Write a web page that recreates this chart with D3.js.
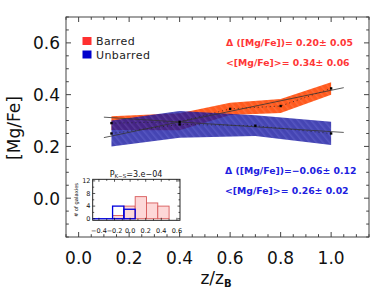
<!DOCTYPE html>
<html>
<head>
<meta charset="utf-8">
<script src="https://cdn.jsdelivr.net/npm/d3@7"></script>
<style>
body { margin: 0; background: #fff; }
text { font-family: "DejaVu Sans", sans-serif; }
</style>
</head>
<body>
<svg width="374" height="290"></svg>
<script>
// dati
var barredX = [0.13, 0.40, 0.60, 0.80, 1.00];
var barredY = [0.290, 0.295, 0.345, 0.356, 0.424];
var barredErr = [0.027, 0.033, 0.024, 0.027, 0.024];

var unbarredX = [0.13, 0.40, 0.70, 1.00];
var unbarredY = [0.250, 0.285, 0.280, 0.250];
var unbarredErr = [0.050, 0.052, 0.040, 0.045];

// rette di fit
var fitX = [0.10, 1.05];
var barredFit = [0.234, 0.427];
var unbarredFit = [0.313, 0.254];

var xTicks = [0.0, 0.2, 0.4, 0.6, 0.8, 1.0];
var yTicks = [0.0, 0.2, 0.4, 0.6];

// istogramma nel riquadro
var binEdges = [-0.225, -0.08, 0.065, 0.21, 0.355, 0.50];
var histBarred = [1, 4, 7, 5, 4];
var histUnbarred = [4, 3, 0, 0, 0];
var histXTicks = [-0.4, -0.2, 0.0, 0.2, 0.4, 0.6];
var histYTicks = [0, 4, 8, 12];

var svg = d3.select("svg");

// (non uso "top": e' gia' window.top)
var pL = 66, pR = 369, pT = 17, pB = 237;
var x = d3.scaleLinear().domain([-0.05, 1.15]).range([pL, pR]);
var y = d3.scaleLinear().domain([-0.15, 0.7]).range([pB, pT]);

// pattern tratteggiato per le bande
var defs = svg.append("defs");
function hatch(id, base, stripe) {
  var p = defs.append("pattern").attr("id", id)
    .attr("patternUnits", "userSpaceOnUse")
    .attr("width", 5).attr("height", 5)
    .attr("patternTransform", "rotate(-40)");
  p.append("rect").attr("width", 5).attr("height", 5).attr("fill", base);
  p.append("rect").attr("width", 1.5).attr("height", 5).attr("fill", stripe);
}
hatch("hOrange", "#ff5a1e", "#ff6c36");
hatch("hBlue", "#1717a0", "#2c2cb2");

function band(xs, ys, es) {
  var pts = xs.map(function (d, i) { return [x(d), y(ys[i] + es[i])]; });
  for (var i = xs.length - 1; i >= 0; i--) pts.push([x(xs[i]), y(ys[i] - es[i])]);
  return "M" + pts.join("L") + "Z";
}

svg.append("path").attr("d", band(barredX, barredY, barredErr))
  .attr("fill", "url(#hOrange)");
svg.append("path").attr("d", band(unbarredX, unbarredY, unbarredErr))
  .attr("fill", "url(#hBlue)").attr("opacity", 0.8);

var line = d3.line().x(function (d) { return x(d[0]); }).y(function (d) { return y(d[1]); });

// linee puntinate tra i punti
svg.append("path").datum(d3.zip(barredX, barredY)).attr("d", line)
  .attr("fill", "none").attr("stroke", "#222").attr("stroke-width", 0.8)
  .attr("stroke-dasharray", "1,3");
svg.append("path").datum(d3.zip(unbarredX, unbarredY)).attr("d", line)
  .attr("fill", "none").attr("stroke", "#222").attr("stroke-width", 0.8)
  .attr("stroke-dasharray", "1,3");

// fit
svg.append("path").datum(d3.zip(fitX, barredFit)).attr("d", line)
  .attr("fill", "none").attr("stroke", "#333").attr("stroke-width", 0.8);
svg.append("path").datum(d3.zip(fitX, unbarredFit)).attr("d", line)
  .attr("fill", "none").attr("stroke", "#333").attr("stroke-width", 0.8);

// punti
svg.append("g").selectAll("rect")
  .data(d3.zip(barredX, barredY).concat(d3.zip(unbarredX, unbarredY)))
  .enter().append("rect")
  .attr("x", function (d) { return x(d[0]) - 1.2; })
  .attr("y", function (d) { return y(d[1]) - 1.2; })
  .attr("width", 2.4).attr("height", 2.4).attr("fill", "#000");

// cornice e tacche
var frame = svg.append("g");
frame.append("rect").attr("x", pL).attr("y", pT)
  .attr("width", pR - pL).attr("height", pB - pT)
  .attr("fill", "none").attr("stroke", "#444").attr("stroke-width", 1);

var xMinor = d3.range(-0.05, 1.151, 0.05);
var yMinor = d3.range(-0.15, 0.701, 0.05);
function isMajor(v) { return Math.abs(v * 5 - Math.round(v * 5)) < 1e-6; }

xMinor.forEach(function (v) {
  var L = isMajor(v) ? 5 : 2.8;
  frame.append("line").attr("x1", x(v)).attr("x2", x(v)).attr("y1", pB).attr("y2", pB - L)
    .attr("stroke", "#444");
  frame.append("line").attr("x1", x(v)).attr("x2", x(v)).attr("y1", pT).attr("y2", pT + L)
    .attr("stroke", "#444");
});
yMinor.forEach(function (v) {
  var L = isMajor(v) ? 5 : 2.8;
  frame.append("line").attr("y1", y(v)).attr("y2", y(v)).attr("x1", pL).attr("x2", pL + L)
    .attr("stroke", "#444");
  frame.append("line").attr("y1", y(v)).attr("y2", y(v)).attr("x1", pR).attr("x2", pR - L)
    .attr("stroke", "#444");
});

svg.append("g").selectAll("text").data(xTicks).enter().append("text")
  .attr("x", function (d) { return x(d); }).attr("y", 263.5)
  .attr("text-anchor", "middle").attr("font-size", 17).attr("fill", "#111")
  .text(function (d) { return d.toFixed(1); });
svg.append("g").selectAll("text").data(yTicks).enter().append("text")
  .attr("x", 60).attr("y", function (d) { return y(d) + 6.5; })
  .attr("text-anchor", "end").attr("font-size", 17).attr("fill", "#111")
  .text(function (d) { return d.toFixed(1); });

// titoli assi
var xl = svg.append("text").attr("x", 216).attr("y", 284).attr("text-anchor", "middle")
  .attr("font-size", 17).attr("fill", "#111");
xl.append("tspan").text("z/z");
xl.append("tspan").attr("font-size", 10).attr("font-weight", "bold").attr("dy", 3).text("B");

svg.append("text").attr("transform", "translate(20,128) rotate(-90)")
  .attr("text-anchor", "middle").attr("font-size", 17).attr("fill", "#111")
  .text("[Mg/Fe]");

// legenda
svg.append("rect").attr("x", 82.5).attr("y", 37).attr("width", 9).attr("height", 8).attr("fill", "#ff3030");
svg.append("rect").attr("x", 82.5).attr("y", 50.5).attr("width", 9).attr("height", 8).attr("fill", "#0000cc");
svg.append("text").attr("x", 96).attr("y", 45.3).attr("font-size", 11).attr("fill", "#222")
  .attr("letter-spacing", 0.4).text("Barred");
svg.append("text").attr("x", 96).attr("y", 58.6).attr("font-size", 11).attr("fill", "#222")
  .attr("letter-spacing", 0.4).text("Unbarred");

// annotazioni
function note(tx, ty, s, col) {
  svg.append("text").attr("x", tx).attr("y", ty).attr("font-size", 9.3)
    .attr("font-weight", "bold").attr("fill", col).text(s);
}
note(226, 45.5, "\u0394 ([Mg/Fe])= 0.20\u00b1 0.05", "#ff3535");
note(226, 66, "<[Mg/Fe]>= 0.34\u00b1 0.06", "#ff3535");
note(225, 173.5, "\u0394 ([Mg/Fe])=\u22120.06\u00b1 0.12", "#2020e0");
note(225, 194, "<[Mg/Fe]>= 0.26\u00b1 0.02", "#2020e0");

// riquadro istogramma
var hl = 92.7, hr = 180, ht = 179.3, hb = 220.3;
var hx = d3.scaleLinear().domain([-0.48, 0.64]).range([hl, hr]);
var hy = d3.scaleLinear().domain([-0.5, 12.5]).range([hb, ht]);
var ins = svg.append("g");
ins.append("rect").attr("x", hl).attr("y", ht).attr("width", hr - hl).attr("height", hb - ht)
  .attr("fill", "#fff").attr("stroke", "#111").attr("stroke-width", 0.9);

var bins = histBarred.map(function (c, i) { return { x0: binEdges[i], x1: binEdges[i + 1], c: c, u: histUnbarred[i] }; });
ins.selectAll(".rb").data(bins).enter().append("rect").attr("class", "rb")
  .attr("x", function (d) { return hx(d.x0); })
  .attr("y", function (d) { return hy(d.c); })
  .attr("width", function (d) { return hx(d.x1) - hx(d.x0); })
  .attr("height", function (d) { return hy(0) - hy(d.c); })
  .attr("fill", "#fdd8d8").attr("stroke", "#d85a5a").attr("stroke-width", 0.9);

ins.append("line").attr("x1", hl).attr("x2", hx(binEdges[0])).attr("y1", hy(0)).attr("y2", hy(0))
  .attr("stroke", "#0000dd").attr("stroke-width", 1.3);
ins.selectAll(".ub").data(bins.filter(function (d) { return d.u > 0; })).enter().append("rect").attr("class", "ub")
  .attr("x", function (d) { return hx(d.x0); })
  .attr("y", function (d) { return hy(d.u); })
  .attr("width", function (d) { return hx(d.x1) - hx(d.x0); })
  .attr("height", function (d) { return hy(0) - hy(d.u); })
  .attr("fill", "none").attr("stroke", "#0000dd").attr("stroke-width", 1.3);

d3.range(-0.4, 0.61, 0.1).forEach(function (v) {
  var L = isMajor(v) ? 2.5 : 1.5;
  ins.append("line").attr("x1", hx(v)).attr("x2", hx(v)).attr("y1", hb).attr("y2", hb - L).attr("stroke", "#111").attr("stroke-width", 0.7);
  ins.append("line").attr("x1", hx(v)).attr("x2", hx(v)).attr("y1", ht).attr("y2", ht + L).attr("stroke", "#111").attr("stroke-width", 0.7);
});
d3.range(0, 12.1, 2).forEach(function (v) {
  var L = v % 4 === 0 ? 2.5 : 1.5;
  ins.append("line").attr("y1", hy(v)).attr("y2", hy(v)).attr("x1", hl).attr("x2", hl + L).attr("stroke", "#111").attr("stroke-width", 0.7);
  ins.append("line").attr("y1", hy(v)).attr("y2", hy(v)).attr("x1", hr).attr("x2", hr - L).attr("stroke", "#111").attr("stroke-width", 0.7);
});

ins.selectAll(".hxt").data(histXTicks).enter().append("text")
  .attr("x", function (d) { return hx(d); }).attr("y", 233)
  .attr("text-anchor", "middle").attr("font-size", 6.5).attr("fill", "#111")
  .text(function (d) { return (d < 0 ? "\u2212" : "") + Math.abs(d).toFixed(1); });
ins.selectAll(".hyt").data(histYTicks).enter().append("text")
  .attr("x", 90.5).attr("y", function (d) { return hy(d) + 2.3; })
  .attr("text-anchor", "end").attr("font-size", 6.5).attr("fill", "#111")
  .text(function (d) { return d; });
ins.append("text").attr("transform", "translate(77.5,200) rotate(-90)")
  .attr("text-anchor", "middle").attr("font-size", 5.2).attr("fill", "#111")
  .text("# of galaxies");

var tt = ins.append("text").attr("x", 136).attr("y", 176.5).attr("text-anchor", "middle")
  .attr("font-size", 8).attr("fill", "#111");
tt.append("tspan").text("P");
tt.append("tspan").attr("font-size", 5.5).attr("dy", 1.5).text("K\u2212S");
tt.append("tspan").attr("dy", -1.5).text("=3.e\u221204");
</script>
</body>
</html>
